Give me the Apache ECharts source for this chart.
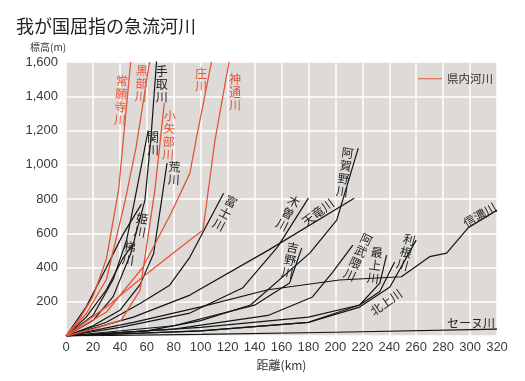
<!DOCTYPE html>
<html><head><meta charset="utf-8">
<script src="https://cdn.jsdelivr.net/npm/echarts@6/dist/echarts.min.js"></script>
<style>html,body{margin:0;padding:0;background:#fff}#c{width:525px;height:381px}</style>
</head><body><div id="c"></div>
<script>
const titleText = '我が国屈指の急流河川';
const xName = '距離(km)';
const yName = '標高(m)';
const legendName = '県内河川';
const xMin = 0, xMax = 320, xStep = 20;
const yMin = 0, yMax = 1600, yStep = 200;

// red (prefecture) rivers: [distance km, elevation m]
const joganji  = [[0,0],[10,100],[20,230],[30,450],[39,850],[48,1600]];
const kurobe   = [[0,0],[15,130],[30,330],[44,793],[52,1100],[62,1600]];
const oyabe    = [[0,0],[20,40],[41,93],[55,268],[66,852],[73,1360]];
const shogawa  = [[0,0],[30,140],[57,400],[78,717],[92,951],[96.5,1143],[108,1600]];
const jinzu    = [[0,0],[30,170],[57,344],[92,560],[101.7,618],[110.6,1143],[121,1600]];

// black (other) rivers
const tedori   = [[0,0],[20,90],[35,230],[48,480],[58.6,793],[63,1150],[67.3,1610]];
const sekigawa = [[0,0],[20,120],[35,330],[45,560],[51,793],[61,1200]];
const himekawa = [[0,0],[15,170],[30,400],[42,589],[56,770]];
const kakehashi= [[0,0],[15,110],[30,270],[42,450],[50,540]];
const arakawa  = [[0,0],[20,60],[40,150],[55,300],[65,480],[71,793],[75,1010]];
const fuji     = [[0,0],[30,80],[55,190],[77,297],[92,461],[117,834]];
const kiso     = [[0,0],[40,50],[92,134],[131,280],[157,519],[180,805]];
const tenryu   = [[0,0],[50,110],[92,239],[150,500],[214,805]];
const agano    = [[0,0],[60,30],[100,90],[137,181],[181,484],[201,677],[217,1097]];
const yoshino  = [[0,0],[80,60],[140,180],[166,309],[175,513]];
const abukuma  = [[0,0],[80,40],[150,120],[183,228],[198,373],[213,531]];
const mogami   = [[0,0],[100,50],[180,110],[218,181],[233,309],[238,472]];
const tone     = [[0,0],[100,30],[180,80],[218,169],[240.5,286],[260,560]];
const shinano  = [[0,0],[50,80],[100,170],[150,270],[203,327],[249,346],[270,463],[282.6,484],[298.4,630],[320,735]];
const kitakami = [[0,0],[100,30],[180,80],[218,181],[233,260],[244,432]];
const seine    = [[0,0],[100,10],[200,22],[320,40]];

const redRivers = [joganji, kurobe, oyabe, shogawa, jinzu];
const blackRivers = [tedori, sekigawa, himekawa, kakehashi, arakawa, fuji, kiso, tenryu, agano, yoshino, abukuma, mogami, tone, shinano, kitakami, seine];

// labels: text, anchor [km, m], vertical?, rotation deg, red?
const riverLabels = [
  ['常願寺川', [40.8,1377], true, -3, true],
  ['黒部川',   [56,1476],   true, -3, true],
  ['手取川',   [71,1470],   true, 0, false],
  ['関川',     [64.6,1120], true, 0, false],
  ['小矢部川', [76.5,1173], true, -3, true],
  ['荒川',     [80.2,951],  true, -3, false],
  ['庄川',     [100.2,1494],true, 0, true],
  ['神通川',   [125.5,1424],true, 0, true],
  ['姫川',     [55.7,648],  true, -10, false],
  ['梯川',     [46.8,484],  true, -8, false],
  ['富士川',   [118,718],   true, -27, false],
  ['木曽川',   [164.8,718], true, -27, false],
  ['天竜川',   [187,723],   false, 37, false],
  ['阿賀野川', [207,957],   true, -8, false],
  ['吉野川',   [166.3,443], true, -12, false],
  ['阿武隈川', [216.8,461], true, -25, false],
  ['最上川',   [229.4,414], true, -8, false],
  ['利根川',   [252.4,490], true, -15, false],
  ['信濃川',   [307.3,706], false, 30, false],
  ['北上川',   [237.6,198], false, 35, false],
  ['セーヌ川', [300.7,76],  false, 0, false]
];

const RED = '#e4553b', BLACK = '#141414';
const JP = "'Noto Sans CJK JP', sans-serif";
const NUM = "'Liberation Sans', 'Noto Sans CJK JP', sans-serif";

const chart = echarts.init(document.getElementById('c'), null, {renderer:'canvas'});
const series = [];
blackRivers.forEach((d,i)=>series.push({type:'line', name:'b'+i, data:d, symbol:'none', silent:true,
  lineStyle:{color:BLACK, width:1.2}, z:2}));
redRivers.forEach((d)=>series.push({type:'line', name:legendName, data:d, symbol:'none', silent:true,
  lineStyle:{color:RED, width:1.3}, itemStyle:{color:RED}, z:3}));

chart.setOption({
  animation:false,
  backgroundColor:'#ffffff',
  title:{text:titleText, left:11, top:12, textStyle:{fontFamily:JP, fontSize:18, fontWeight:'normal', color:'#222'}},
  legend:{data:[legendName], left:413, top:68, itemWidth:24, itemHeight:10, itemGap:4, icon:'path://M0,4.5L24,4.5L24,5.5L0,5.5Z',
    textStyle:{fontFamily:JP, fontSize:11.5, color:'#333'}},
  grid:{left:66, right:28, top:62, bottom:45, show:true, backgroundColor:'#dddad8', borderWidth:0},
  xAxis:{type:'value', min:xMin, max:xMax, interval:xStep, name:xName, nameLocation:'middle', nameGap:23,
    nameTextStyle:{fontFamily:JP, fontSize:12, color:'#333'},
    axisLine:{show:false}, axisTick:{show:false},
    axisLabel:{fontFamily:NUM, fontSize:13, color:'#3a3a3a', margin:5},
    splitLine:{show:true, lineStyle:{color:'#ffffff', width:1.5}}},
  yAxis:{type:'value', min:yMin, max:yMax, interval:yStep,
    axisLine:{show:false}, axisTick:{show:false},
    axisLabel:{fontFamily:NUM, fontSize:13, color:'#3a3a3a', margin:8,
      formatter:v=> v===0 ? '' : v.toLocaleString('en-US')},
    splitLine:{show:true, lineStyle:{color:'#ffffff', width:1.5}}},
  series:series
});

const g = [{type:'text', left:30, top:42, style:{text:yName, fontFamily:JP, fontSize:10, fill:'#333'}}];
riverLabels.forEach(([t, at, vert, rot, red])=>{
  const p = chart.convertToPixel({gridIndex:0}, at);
  g.push({type:'text', x:p[0], y:p[1], rotation:rot*Math.PI/180, z:10,
    style:{text: vert ? t.split('').join('\n') : t, fontFamily:JP, fontSize:12, lineHeight:13,
      fill: red ? RED : '#222', align:'center', verticalAlign:'middle'}});
});
chart.setOption({graphic:g});
</script></body></html>
